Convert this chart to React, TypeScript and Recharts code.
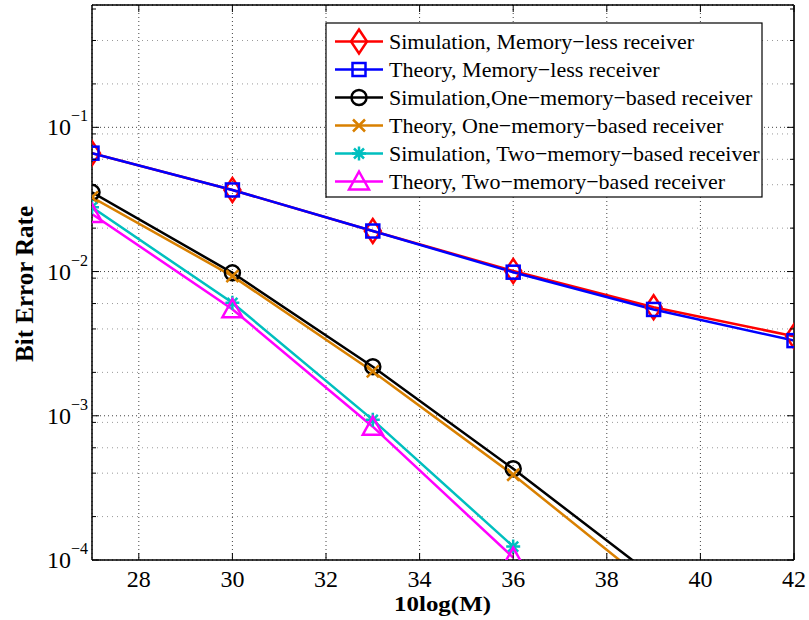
import { CartesianGrid, Line, LineChart, XAxis, YAxis } from 'recharts';

// 10log(M) sample points
const snrDb = [27, 30, 33, 36, 39, 42];

// bit error rates (null = not simulated)
const simMemoryless = [0.0662, 0.0368, 0.0191, 0.0101, 0.00566, 0.00356];
const theoryMemoryless = [0.0662, 0.0368, 0.0191, 0.0099, 0.00546, 0.00332];
const simOneMemory = [0.0354, 0.0098, 0.00219, 0.000429, 0.000077, null];
const theoryOneMemory = [0.0327, 0.0093, 0.00203, 0.00039, 0.0000645, null];
const simTwoMemory = [0.0279, 0.00607, 0.000937, 0.000124, null, null];
const theoryTwoMemory = [0.0251, 0.00548, 0.00084, 0.000104, null, null];

const xTicks = [28, 30, 32, 34, 36, 38, 40, 42];
const yMajorTicks = [0.0001, 0.001, 0.01, 0.1];
const yMinorTicks = [
  0.0002, 0.0003, 0.0004, 0.0005, 0.0006, 0.0007, 0.0008, 0.0009,
  0.002, 0.003, 0.004, 0.005, 0.006, 0.007, 0.008, 0.009,
  0.02, 0.03, 0.04, 0.05, 0.06, 0.07, 0.08, 0.09,
  0.2, 0.3, 0.4, 0.5, 0.6, 0.7,
];
const yAllTicks = [...yMajorTicks, ...yMinorTicks].sort((a, b) => a - b);

const series = [
  { key: 'simMemoryless', name: 'Simulation, Memory\u2212less receiver', color: '#ff0000', marker: 'diamond' },
  { key: 'theoryMemoryless', name: 'Theory, Memory\u2212less receiver', color: '#0000ff', marker: 'square' },
  { key: 'simOneMemory', name: 'Simulation,One\u2212memory\u2212based receiver', color: '#000000', marker: 'circle' },
  { key: 'theoryOneMemory', name: 'Theory, One\u2212memory\u2212based receiver', color: '#d98000', marker: 'cross' },
  { key: 'simTwoMemory', name: 'Simulation, Two\u2212memory\u2212based receiver', color: '#00bfbf', marker: 'star' },
  { key: 'theoryTwoMemory', name: 'Theory, Two\u2212memory\u2212based receiver', color: '#ff00ff', marker: 'triangle' },
];

const data = snrDb.map((x, i) => ({
  x,
  simMemoryless: simMemoryless[i],
  theoryMemoryless: theoryMemoryless[i],
  simOneMemory: simOneMemory[i],
  theoryOneMemory: theoryOneMemory[i],
  simTwoMemory: simTwoMemory[i],
  theoryTwoMemory: theoryTwoMemory[i],
}));

const FONT = '"Liberation Serif", "Times New Roman", serif';
const Y_DOMAIN = [0.0001, 0.705];

const Marker = ({ shape, cx, cy, color }: any) => {
  const common = { fill: 'none', stroke: color, strokeWidth: 2.5 };
  switch (shape) {
    case 'diamond':
      return <polygon {...common} points={`${cx},${cy - 12} ${cx + 8},${cy} ${cx},${cy + 12} ${cx - 8},${cy}`} />;
    case 'square':
      return <rect {...common} x={cx - 6.5} y={cy - 6.5} width={13} height={13} />;
    case 'circle':
      return <circle {...common} cx={cx} cy={cy} r={7.5} />;
    case 'cross':
      return (
        <path {...common} d={`M${cx - 6},${cy - 6}L${cx + 6},${cy + 6}M${cx - 6},${cy + 6}L${cx + 6},${cy - 6}`} />
      );
    case 'star':
      return (
        <path
          {...common}
          d={`M${cx - 7},${cy}L${cx + 7},${cy}M${cx},${cy - 7}L${cx},${cy + 7}M${cx - 5},${cy - 5}L${cx + 5},${cy + 5}M${cx - 5},${cy + 5}L${cx + 5},${cy - 5}`}
        />
      );
    case 'triangle':
      return <polygon {...common} points={`${cx},${cy - 10} ${cx + 10},${cy + 8} ${cx - 10},${cy + 8}`} />;
    default:
      return null;
  }
};

const isMajor = (v: number) => Math.abs(Math.log10(v) - Math.round(Math.log10(v))) < 1e-6;

const LeftTick = ({ x, y, payload }: any) => (
  <g>
    <line x1={x} x2={x + 7} y1={y} y2={y} stroke='#000' strokeWidth={1} />
    <text x={x - 4} y={y + 8} textAnchor='end' fontFamily={FONT} fontSize={24} fill='#000'>
      <tspan>10</tspan>
      <tspan dy={-14} fontSize={16}>
        {`\u2212${Math.round(-Math.log10(payload.value))}`}
      </tspan>
    </text>
  </g>
);

const MinorLeftTick = ({ x, y }: any) => <line x1={x + 1} x2={x + 5} y1={y} y2={y} stroke='#000' strokeWidth={1} />;

const RightTick = ({ x, y, payload }: any) => (
  <line x1={x} x2={x - (isMajor(payload.value) ? 7 : 4)} y1={y} y2={y} stroke='#000' strokeWidth={1} />
);

const BottomTick = ({ x, y, payload }: any) => (
  <g>
    <line x1={x} x2={x} y1={y} y2={y - 7} stroke='#000' strokeWidth={1} />
    <text x={x} y={y + 27} textAnchor='middle' fontFamily={FONT} fontSize={24} fill='#000'>
      {payload.value}
    </text>
  </g>
);

const TopTick = ({ x, y }: any) => <line x1={x} x2={x} y1={y} y2={y + 7} stroke='#000' strokeWidth={1} />;

const LegendBox = () => (
  <g>
    <rect x={326} y={23} width={436} height={174} fill='#fff' stroke='#000' strokeWidth={1.2} />
    {series.map((s, i) => {
      const cy = 41.5 + i * 28;
      return (
        <g key={s.key}>
          <line x1={335} x2={383} y1={cy} y2={cy} stroke={s.color} strokeWidth={2.5} />
          <Marker shape={s.marker} cx={359} cy={cy} color={s.color} />
          <text x={389} y={cy + 7.5} fontFamily={FONT} fontSize={22} fill='#000'>
            {s.name}
          </text>
        </g>
      );
    })}
  </g>
);

const AxisTitles = () => (
  <g>
    <text
      x={33}
      y={284}
      transform='rotate(-90 33 284)'
      textAnchor='middle'
      fontFamily={FONT}
      fontWeight='bold'
      fontSize={25}
      fill='#000'
    >
      Bit Error Rate
    </text>
    <text
      x={394}
      y={611}
      textLength={97}
      lengthAdjust='spacingAndGlyphs'
      fontFamily={FONT}
      fontWeight='bold'
      fontSize={21}
      fill='#000'
    >
      10log(M)
    </text>
  </g>
);

export default function App() {
  return (
    <div style={{ position: 'absolute', left: 0, top: 0, width: 809, height: 620, background: '#fff' }}>
      <LineChart width={809} height={620} data={data} margin={{ top: 4, right: 14, bottom: 59, left: 90 }}>
        <CartesianGrid xAxisId='x' yAxisId='ym' vertical={false} stroke='#9a9a9a' strokeDasharray='1 4' />
        <CartesianGrid xAxisId='x' yAxisId='y' stroke='#444' strokeDasharray='1 3' />
        <XAxis
          xAxisId='x'
          dataKey='x'
          type='number'
          domain={[27, 42]}
          ticks={xTicks}
          allowDataOverflow
          height={1}
          tickSize={0}
          tickMargin={0}
          tick={<BottomTick />}
          axisLine={{ stroke: '#000', strokeWidth: 1.5 }}
          tickLine={false}
        />
        <XAxis
          xAxisId='xt'
          orientation='top'
          dataKey='x'
          type='number'
          domain={[27, 42]}
          ticks={xTicks}
          height={1}
          tickSize={0}
          tickMargin={0}
          tick={<TopTick />}
          axisLine={{ stroke: '#000', strokeWidth: 1.5 }}
          tickLine={false}
        />
        <YAxis
          yAxisId='y'
          scale='log'
          type='number'
          domain={Y_DOMAIN}
          ticks={yMajorTicks}
          allowDataOverflow
          width={1}
          tickSize={0}
          tickMargin={0}
          tick={<LeftTick />}
          axisLine={{ stroke: '#000', strokeWidth: 1.5 }}
          tickLine={false}
        />
        <YAxis
          yAxisId='ym'
          scale='log'
          type='number'
          domain={Y_DOMAIN}
          ticks={yMinorTicks}
          allowDataOverflow
          width={1}
          tickSize={0}
          tickMargin={0}
          tick={<MinorLeftTick />}
          axisLine={false}
          tickLine={false}
        />
        <YAxis
          yAxisId='yr'
          orientation='right'
          scale='log'
          type='number'
          domain={Y_DOMAIN}
          ticks={yAllTicks}
          allowDataOverflow
          width={1}
          tickSize={0}
          tickMargin={0}
          tick={<RightTick />}
          axisLine={{ stroke: '#333', strokeWidth: 2 }}
          tickLine={false}
        />
        {series.map((s) => (
          <Line
            key={s.key}
            xAxisId='x'
            yAxisId='y'
            type='linear'
            dataKey={s.key}
            name={s.name}
            stroke={s.color}
            strokeWidth={2.5}
            isAnimationActive={false}
            dot={(p: any) =>
              p.cy == null || p.value == null ? (
                <g key={p.key ?? p.index} />
              ) : (
                <Marker key={p.key ?? p.index} shape={s.marker} cx={p.cx} cy={p.cy} color={s.color} />
              )
            }
            activeDot={false}
          />
        ))}
        <LegendBox />
        <AxisTitles />
      </LineChart>
    </div>
  );
}
